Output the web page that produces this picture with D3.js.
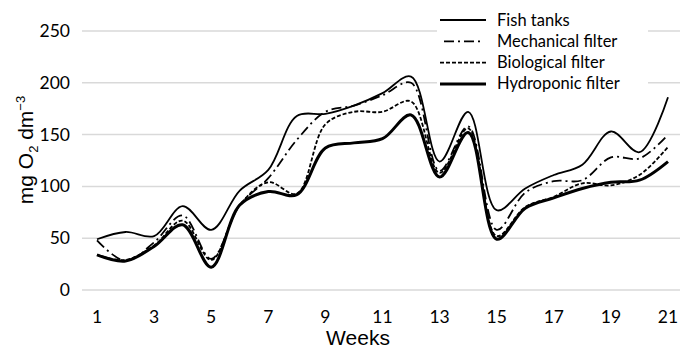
<!DOCTYPE html>
<html><head><meta charset="utf-8">
<script src="https://cdn.jsdelivr.net/npm/d3@7"></script>
<style>body{margin:0;background:#fff}svg{display:block}</style>
</head><body><svg id="c" width="680" height="349"></svg>
<script>
const weeks = d3.range(1, 22);
const fishTanks = [49,56,52,81,58,96,116,168,170,178,190,206,124,172,77,98,111,121,153,133,186];
const mechanical = [48,28,46,72,30,82,108,145,172,178,188,200,115,158,58,94,105,106,128,127,150];
const biological = [34,29,43,67,29,82,104,93,160,172,172,182,113,156,52,80,90,103,101,111,138];
const hydroponic = [34,28,42,63,22,82,95,92,137,142,146,169,109,152,49,79,89,98,104,106,124];
const yTicks = [0,50,100,150,200,250];
const xTicks = [1,3,5,7,9,11,13,15,17,19,21];
const seriesNames = ["Fish tanks","Mechanical filter","Biological filter","Hydroponic filter"];

const series = [
  {name: seriesNames[0], values: fishTanks, w: 1.8, dash: null},
  {name: seriesNames[1], values: mechanical, w: 1.8, dash: "10,4,2,4"},
  {name: seriesNames[2], values: biological, w: 1.8, dash: "4,2"},
  {name: seriesNames[3], values: hydroponic, w: 3, dash: null}
];

const svg = d3.select("#c");
const x = d3.scaleLinear().domain([1,21]).range([97,668]);
const y = d3.scaleLinear().domain([0,250]).range([290,31]);

svg.append("g").selectAll("line").data(yTicks).join("line")
  .attr("x1",82).attr("x2",680).attr("y1",d=>y(d)).attr("y2",d=>y(d))
  .attr("stroke","#d9d9d9").attr("stroke-width",1.5);

svg.append("g").selectAll("text").data(yTicks).join("text")
  .attr("x",70).attr("y",d=>y(d)+6).attr("text-anchor","end")
  .attr("font-family","Lato, 'Open Sans', sans-serif").attr("font-size",17.5).attr("fill","#000")
  .text(d=>d);

svg.append("g").selectAll("text").data(xTicks).join("text")
  .attr("x",d=>x(d)).attr("y",323).attr("text-anchor","middle")
  .attr("font-family","Lato, 'Open Sans', sans-serif").attr("font-size",17.5).attr("fill","#000")
  .text(d=>d);

svg.append("text").attr("x",358).attr("y",345).attr("text-anchor","middle")
  .attr("font-family","'Liberation Sans', Arial, sans-serif").attr("font-size",21).text("Weeks");

const yt = svg.append("text").attr("transform","translate(33,150) rotate(-90)")
  .attr("text-anchor","middle").attr("font-family","'Liberation Sans', Arial, sans-serif").attr("font-size",21);
yt.append("tspan").text("mg O");
yt.append("tspan").attr("font-size",13).attr("dy",5).text("2");
yt.append("tspan").attr("dy",-5).text(" dm");
yt.append("tspan").attr("font-size",13).attr("dy",-8).text("−3");

const line = d3.line().x((d,i)=>x(weeks[i])).y(d=>y(d)).curve(d3.curveCatmullRom.alpha(0.5));
svg.append("g").selectAll("path").data(series).join("path")
  .attr("d",d=>line(d.values)).attr("fill","none").attr("stroke","#000")
  .attr("stroke-width",d=>d.w).attr("stroke-dasharray",d=>d.dash)
  .attr("stroke-linejoin","round");

svg.append("rect").attr("x",437).attr("y",6).attr("width",211).attr("height",88).attr("fill","#fff");
const lg = svg.append("g").selectAll("g").data(series).join("g")
  .attr("transform",(d,i)=>`translate(0,${20+i*21.3})`);
lg.append("line").attr("x1",d=>d.name===seriesNames[1]?444:440).attr("x2",d=>d.name===seriesNames[1]?484:486)
  .attr("y1",0).attr("y2",0).attr("stroke","#000")
  .attr("stroke-width",d=>d.w).attr("stroke-dasharray",d=>d.dash);
lg.append("text").attr("x",497).attr("y",5.5)
  .attr("font-family","Lato, 'Open Sans', sans-serif").attr("font-size",16.5).text(d=>d.name);
</script></body></html>
